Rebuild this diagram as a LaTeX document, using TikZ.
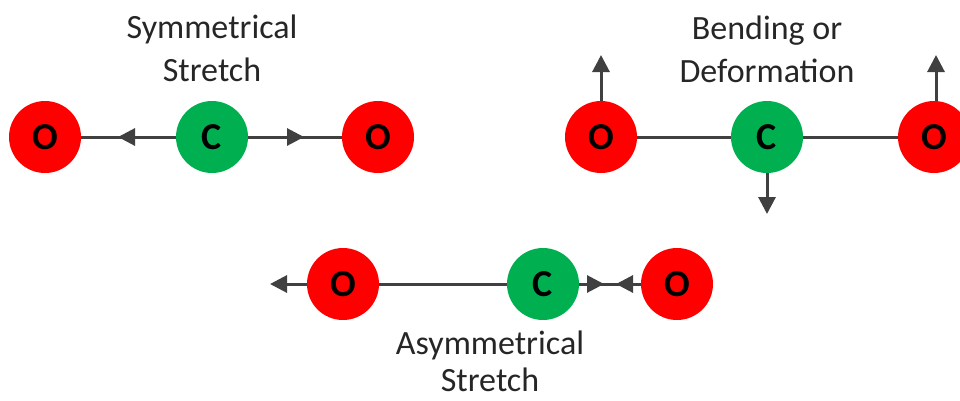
\documentclass[tikz,border=0pt]{standalone}
\usepackage{fontspec}
\setmainfont{Carlito}
\usetikzlibrary{arrows.meta}
\definecolor{oxy}{HTML}{FF0000}
\definecolor{carb}{HTML}{00B050}
\definecolor{bondc}{HTML}{404040}
\definecolor{txt}{HTML}{262626}
\tikzset{
  atom/.style={circle, minimum size=72pt, inner sep=0pt, text=black, font=\bfseries\fontsize{38}{40}\selectfont},
  oatom/.style={atom, fill=oxy},
  catom/.style={atom, fill=carb},
  bond/.style={draw=bondc, line width=3pt},
  arr/.style={draw=bondc, line width=3pt, -{Triangle[length=17pt,width=17pt]}},
  lbl/.style={anchor=base, text=txt, font=\fontsize{34}{40}\selectfont, inner sep=0pt}
}
\begin{document}
\begin{tikzpicture}[x=1pt,y=-1pt]
\useasboundingbox (0,0) rectangle (960,400);
% Symmetrical stretch
\node[oatom] (so1) at (45,137) {O};
\node[catom] (sc) at (212,137) {C};
\node[oatom] (so2) at (378,137) {O};
\coordinate (st1) at (118,137);
\coordinate (st2) at (304,137);
\draw[bond] (so1) -- (sc);
\draw[bond] (sc) -- (so2);
\draw[arr] (sc.west) -- (st1);
\draw[arr] (sc.east) -- (st2);
\node[lbl] (sl1) at (212,38) {Symmetrical};
\node[lbl] (sl2) at (212,81) {Stretch};
% Bending
\node[oatom] (bo1) at (601,137) {O};
\node[catom] (bc) at (767,137) {C};
\node[oatom] (bo2) at (934,137) {O};
\draw[bond] (bo1) -- (bc);
\draw[bond] (bc) -- (bo2);
\coordinate (bt1) at (601,55);
\coordinate (bt2) at (767,214);
\coordinate (bt3) at (936,55);
\draw[arr] (bo1.north) -- (bt1);
\draw[arr] (bc.south) -- (bt2);
\draw[arr] (936,101) -- (bt3);
\node[lbl] (bl1) at (767,39) {Bending or};
\node[lbl] (bl2) at (767,82) {Deformation};
% Asymmetrical stretch
\node[oatom] (ao1) at (343,284) {O};
\node[catom] (ac) at (543,284) {C};
\node[oatom] (ao2) at (677,284) {O};
\coordinate (at1) at (270,284);
\coordinate (at2) at (604,284);
\coordinate (at3) at (616,284);
\draw[bond] (ao1) -- (ac);
\draw[bond] (ac) -- (ao2);
\draw[arr] (ao1.west) -- (at1);
\draw[arr] (ac.east) -- (at2);
\draw[arr] (ao2.west) -- (at3);
\node[lbl] (al1) at (490,354) {Asymmetrical};
\node[lbl] (al2) at (490,391) {Stretch};
\end{tikzpicture}
\end{document}
